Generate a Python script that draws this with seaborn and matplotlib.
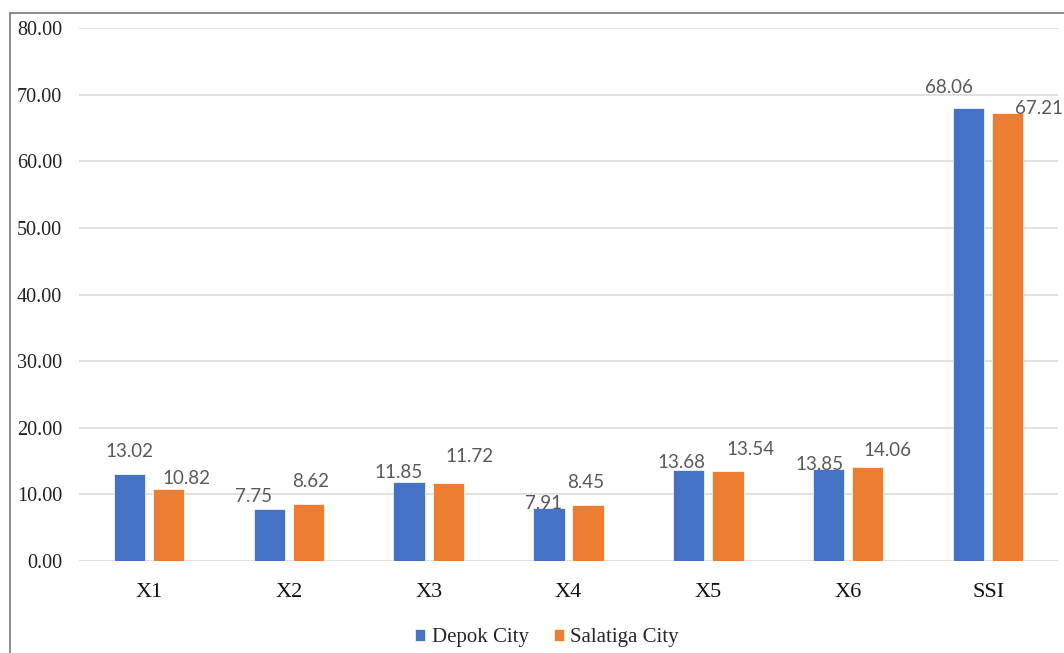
import matplotlib
matplotlib.use("Agg")
import matplotlib.pyplot as plt
from matplotlib.lines import Line2D
import numpy as np
import pandas as pd
import seaborn as sns

# Index components and overall score
categories = ["X1", "X2", "X3", "X4", "X5", "X6", "SSI"]
depok = [13.02, 7.75, 11.85, 7.91, 13.68, 13.85, 68.06]
salatiga = [10.82, 8.62, 11.72, 8.45, 13.54, 14.06, 67.21]
series_names = ["Depok City", "Salatiga City"]
y_ticks = [0, 10, 20, 30, 40, 50, 60, 70, 80]

colors = ["#4472C4", "#ED7D31"]

df = pd.DataFrame({
    "category": categories * 2,
    "value": depok + salatiga,
    "city": [series_names[0]] * len(categories) + [series_names[1]] * len(categories),
})

sns.set_style("white")
fig = plt.figure(figsize=(10.64, 6.53), dpi=100)
ax = fig.add_axes([0.0742, 0.1409, 0.9202, 0.8162])

sns.barplot(data=df, x="category", y="value", hue="city", order=categories,
            hue_order=series_names, palette=colors, width=0.56, gap=0.2,
            saturation=1, errorbar=None, ax=ax, edgecolor="white", linewidth=0.5)

ax.set_ylim(0, 80)
ax.set_xlim(-0.5, len(categories) - 0.5)
ax.set_yticks(y_ticks)
ax.set_yticklabels([f"{t:.2f}" for t in y_ticks], family="Liberation Serif",
                   fontsize=14.5, color="#222222")
ax.set_xticks(range(len(categories)))
ax.set_xticklabels(categories, family="Liberation Serif", fontsize=16, color="#111111")
ax.tick_params(axis="y", length=0, pad=12)
ax.tick_params(axis="x", length=0, pad=16)
ax.set_xlabel("")
ax.set_ylabel("")
ax.yaxis.grid(True, color="#d9d9d9", linewidth=1.1)
ax.set_axisbelow(True)
for s in ax.spines.values():
    s.set_visible(False)

# Data labels, nudged off the bars (pixel offsets)
label_offsets = [
    [(0, 23), (-16, 13), (-10, 10), (-5, 5), (-7, 7), (-9, 4), (-20, 20)],
    [(18, 10), (2, 22), (21, 26), (-2, 22), (23, 21), (20, 17), (31, 5)],
]
for container, offs in zip(ax.containers, label_offsets):
    for bar, (dx, dy) in zip(container.patches, offs):
        h = bar.get_height()
        ax.annotate(f"{h:.2f}", xy=(bar.get_x() + bar.get_width() / 2, h),
                    xytext=(dx, dy), textcoords="offset pixels",
                    ha="center", va="center", family="Lato", fontsize=13.5,
                    color="#595959", annotation_clip=False)

sns.move_legend(ax, loc="center", bbox_to_anchor=(0.514, 0.023),
                bbox_transform=fig.transFigure, ncol=2, frameon=False, title=None,
                prop={"family": "Liberation Serif", "size": 15},
                handlelength=0.5, handleheight=0.5, handletextpad=0.3,
                columnspacing=1.2)

# Outer chart frame
fig.add_artist(Line2D([9.5 / 1064, 9.5 / 1064], [0, 1 - 12.5 / 653],
                      transform=fig.transFigure, color="#6e6e6e", linewidth=1.1))
fig.add_artist(Line2D([9.5 / 1064, 1], [1 - 12.5 / 653, 1 - 12.5 / 653],
                      transform=fig.transFigure, color="#6e6e6e", linewidth=1.1))

fig.savefig("out.png", dpi=100)
